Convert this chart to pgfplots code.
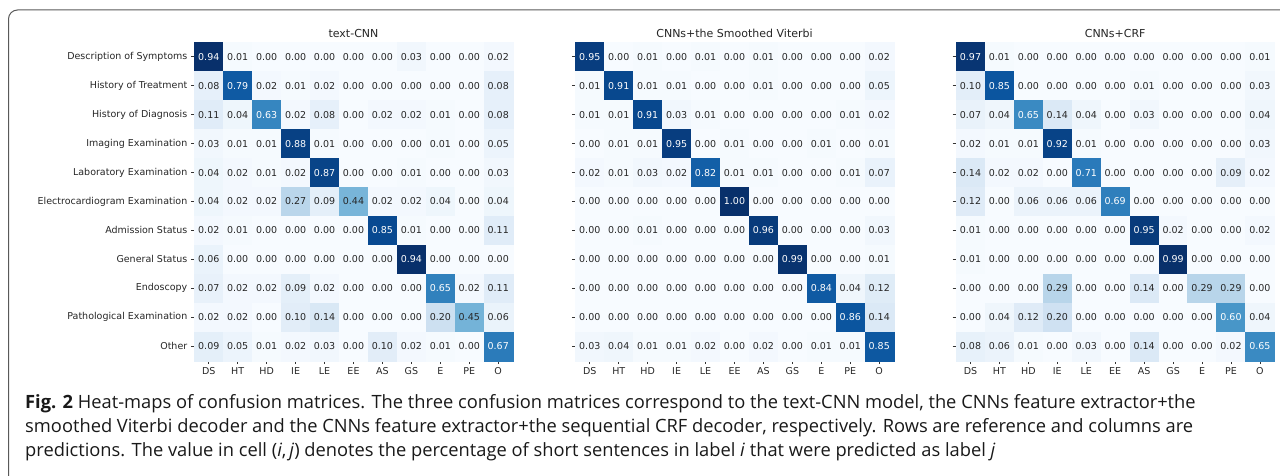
\documentclass[border=0pt]{standalone}
\usepackage{fontspec}
\setmainfont{DejaVu Sans}
\newfontfamily\capfont{Open Sans}
\usepackage{pgfplots}
\usepackage{pgfplotstable}
\pgfplotsset{compat=1.18}

% confusion matrices (rows = reference, columns = prediction)
% columns c0..c10 = DS HT HD IE LE EE AS GS E PE O
\pgfplotstableread{
c0 c1 c2 c3 c4 c5 c6 c7 c8 c9 c10
0.94 0.01 0.00 0.00 0.00 0.00 0.00 0.03 0.00 0.00 0.02
0.08 0.79 0.02 0.01 0.02 0.00 0.00 0.00 0.00 0.00 0.08
0.11 0.04 0.63 0.02 0.08 0.00 0.02 0.02 0.01 0.00 0.08
0.03 0.01 0.01 0.88 0.01 0.00 0.00 0.00 0.01 0.00 0.05
0.04 0.02 0.01 0.02 0.87 0.00 0.00 0.01 0.00 0.00 0.03
0.04 0.02 0.02 0.27 0.09 0.44 0.02 0.02 0.04 0.00 0.04
0.02 0.01 0.00 0.00 0.00 0.00 0.85 0.01 0.00 0.00 0.11
0.06 0.00 0.00 0.00 0.00 0.00 0.00 0.94 0.00 0.00 0.00
0.07 0.02 0.02 0.09 0.02 0.00 0.00 0.00 0.65 0.02 0.11
0.02 0.02 0.00 0.10 0.14 0.00 0.00 0.00 0.20 0.45 0.06
0.09 0.05 0.01 0.02 0.03 0.00 0.10 0.02 0.01 0.00 0.67
}\tcnn

\pgfplotstableread{
c0 c1 c2 c3 c4 c5 c6 c7 c8 c9 c10
0.95 0.00 0.01 0.00 0.01 0.00 0.01 0.00 0.00 0.00 0.02
0.01 0.91 0.01 0.01 0.00 0.00 0.01 0.00 0.00 0.00 0.05
0.01 0.01 0.91 0.03 0.01 0.00 0.00 0.00 0.00 0.01 0.02
0.00 0.01 0.01 0.95 0.00 0.01 0.00 0.00 0.01 0.00 0.01
0.02 0.01 0.03 0.02 0.82 0.01 0.01 0.00 0.00 0.01 0.07
0.00 0.00 0.00 0.00 0.00 1.00 0.00 0.00 0.00 0.00 0.00
0.00 0.00 0.01 0.00 0.00 0.00 0.96 0.00 0.00 0.00 0.03
0.00 0.00 0.00 0.00 0.00 0.00 0.00 0.99 0.00 0.00 0.01
0.00 0.00 0.00 0.00 0.00 0.00 0.00 0.00 0.84 0.04 0.12
0.00 0.00 0.00 0.00 0.00 0.00 0.00 0.00 0.00 0.86 0.14
0.03 0.04 0.01 0.01 0.02 0.00 0.02 0.00 0.01 0.01 0.85
}\viterbi

\pgfplotstableread{
c0 c1 c2 c3 c4 c5 c6 c7 c8 c9 c10
0.97 0.01 0.00 0.00 0.00 0.00 0.00 0.00 0.00 0.00 0.01
0.10 0.85 0.00 0.00 0.00 0.00 0.01 0.00 0.00 0.00 0.03
0.07 0.04 0.65 0.14 0.04 0.00 0.03 0.00 0.00 0.00 0.04
0.02 0.01 0.01 0.92 0.01 0.00 0.00 0.00 0.00 0.00 0.03
0.14 0.02 0.02 0.00 0.71 0.00 0.00 0.00 0.00 0.09 0.02
0.12 0.00 0.06 0.06 0.06 0.69 0.00 0.00 0.00 0.00 0.00
0.01 0.00 0.00 0.00 0.00 0.00 0.95 0.02 0.00 0.00 0.02
0.01 0.00 0.00 0.00 0.00 0.00 0.00 0.99 0.00 0.00 0.00
0.00 0.00 0.00 0.29 0.00 0.00 0.14 0.00 0.29 0.29 0.00
0.00 0.04 0.12 0.20 0.00 0.00 0.00 0.00 0.00 0.60 0.04
0.08 0.06 0.01 0.00 0.03 0.00 0.14 0.00 0.00 0.02 0.65
}\crf

\pgfplotsset{
  colormap={mplblues}{rgb255=(247,251,255) rgb255=(222,235,247) rgb255=(198,219,239)
    rgb255=(158,202,225) rgb255=(107,174,214) rgb255=(66,146,198) rgb255=(33,113,181)
    rgb255=(8,81,156) rgb255=(8,48,107)},
  cm/.style={
    scale only axis, width=318.4pt, height=318.4pt,
    anchor=south west,
    xmin=-0.5, xmax=10.5, ymin=-0.5, ymax=10.5, y dir=reverse,
    xtick={0,...,10}, ytick={0,...,10},
    xticklabels={DS,HT,HD,IE,LE,EE,AS,GS,E,PE,O},
    tick align=outside, xtick pos=left, ytick pos=left,
    major tick length=3.5pt,
    every tick/.style={black!80, line width=0.8pt},
    axis line style={black!80, line width=0.8pt},
    tick label style={font=\fontsize{9.5}{11}\selectfont, text=black!85},
    title style={yshift=-5.2pt, font=\fontsize{11}{13}\selectfont, text=black!85},
    colormap name=mplblues,
    point meta min=0,
    clip=true,
    axis on top,
  },
}

% #1 table, #2 half of the largest value (white numbers above it)
\newcommand\heat[2]{%
  \pgfplotsinvokeforeach{0,...,10}{
    \addplot[scatter, only marks, mark=square*, mark size=14.5pt,
      scatter/use mapped color={draw=mapped color, fill=mapped color},
      line width=0.2pt, point meta=\thisrow{c##1}]
      table[x expr=##1, y expr=\coordindex] {#1};
  }
  \pgfplotsinvokeforeach{0,...,10}{
    \addplot[draw=none, mark=none, point meta=\thisrow{c##1},
      nodes near coords={%
        {\pgfkeys{/pgf/fpu=true}\pgfmathparse{\pgfplotspointmeta>#2}%
         \pgfmathfloattofixed{\pgfmathresult}\xdef\cellwhite{\pgfmathresult}}%
        \ifdim\cellwhite pt>0.5pt\color{white}\fi
        \pgfmathprintnumber[fixed, fixed zerofill, precision=2,
          assume math mode=true]{\pgfplotspointmeta}},
      nodes near coords style={anchor=center, inner sep=0pt,
        font=\fontsize{9.5}{11}\selectfont, text=black!85}]
      table[x expr=##1, y expr=\coordindex] {#1};
  }
}

\begin{document}
\begin{tikzpicture}
\useasboundingbox (0,0) rectangle (1280pt,476pt);
\draw[black!65, line width=1pt, rounded corners=9pt] (8.5pt,-20pt) |- (1300pt,466pt);

\begin{axis}[cm, at={(194.3pt,115.3pt)}, title={text-CNN}, point meta max=0.94,
  yticklabels={Description of Symptoms, History of Treatment, History of Diagnosis,
    Imaging Examination, Laboratory Examination, Electrocardiogram Examination,
    Admission Status, General Status, Endoscopy, Pathological Examination, Other}]
\heat{\tcnn}{0.47}
\end{axis}

\begin{axis}[cm, at={(575.3pt,115.3pt)}, title={CNNs+the Smoothed Viterbi},
  point meta max=1.00, yticklabels={}]
\heat{\viterbi}{0.50}
\end{axis}

\begin{axis}[cm, at={(956pt,115.3pt)}, title={CNNs+CRF},
  point meta max=0.99, yticklabels={}]
\heat{\crf}{0.495}
\end{axis}

\begin{scope}[every node/.style={anchor=base west, inner sep=0pt,
    font=\capfont\fontsize{18.3}{22}\selectfont, text=black!90}]
\node at (25pt,67pt) {\textbf{Fig. 2} Heat-maps of confusion matrices. The three confusion matrices correspond to the text-CNN model, the CNNs feature extractor+the};
\node at (25pt,43pt) {smoothed Viterbi decoder and the CNNs feature extractor+the sequential CRF decoder, respectively. Rows are reference and columns are};
\node at (25pt,19pt) {predictions. The value in cell (\textit{i},\,\textit{j}) denotes the percentage of short sentences in label \textit{i} that were predicted as label \textit{j}};
\end{scope}
\end{tikzpicture}
\end{document}
